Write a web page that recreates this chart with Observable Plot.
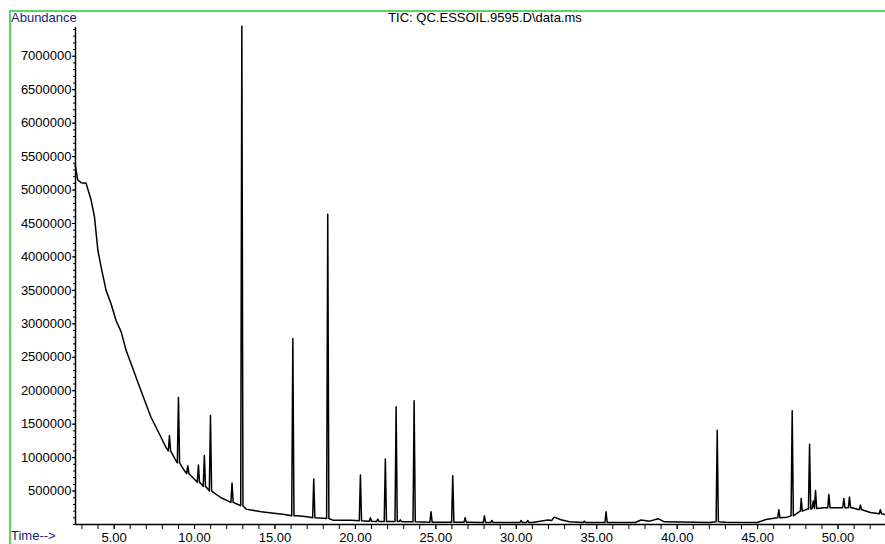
<!DOCTYPE html>
<html>
<head>
<meta charset="utf-8">
<script src="https://cdn.jsdelivr.net/npm/d3@7"></script>
<script src="https://cdn.jsdelivr.net/npm/@observablehq/plot@0.6"></script>
<style>
  html, body { margin: 0; padding: 0; background: #fff; }
  #wrap { position: relative; width: 885px; height: 544px; overflow: hidden; font-family: "Liberation Sans", Arial, sans-serif; }
  #frame { position: absolute; left: 9px; top: 10px; width: 900px; height: 600px; border-top: 2px solid #62d262; border-left: 2px solid #62d262; }
  .lbl { position: absolute; font-size: 13px; white-space: nowrap; line-height: 13px; }
  #ylab { left: 11px; top: 11px; color: #1a1a7a; }
  #title { left: 485px; top: 11px; transform: translateX(-50%); color: #000; }
  #xlab { left: 11px; top: 529px; color: #1a1a7a; }
  #chart { position: absolute; left: 0; top: 0; }
</style>
</head>
<body>
<div id="wrap">
  <div id="chart"></div>
  <div id="frame"></div>
  <div class="lbl" id="ylab">Abundance</div>
  <div class="lbl" id="title">TIC: QC.ESSOIL.9595.D\data.ms</div>
  <div class="lbl" id="xlab">Time--&gt;</div>
</div>
<script>
// Baseline (time in min, abundance in millions)
const baseTime = [2.58, 2.74, 2.95, 3.26, 3.57, 3.78, 3.99, 4.19, 4.50, 4.81, 5.12, 5.44, 5.75, 6.17, 6.67, 7.30, 7.80, 8.23, 8.85, 9.30, 9.90, 10.45, 10.80, 11.65, 12.00, 12.70, 13.20, 14.14, 15.59, 16.40, 17.00, 18.00, 18.60, 19.73, 20.80, 22.00, 23.00, 25.00, 27.00, 29.00, 31.00, 31.97, 32.20, 32.35, 32.78, 33.30, 35.00, 37.40, 37.75, 38.30, 38.81, 39.20, 42.00, 43.00, 44.98, 45.60, 46.22, 46.84, 47.40, 47.66, 48.08, 49.12, 49.95, 50.88, 51.50, 52.01, 52.94];
const baseAbund = [5.38, 5.15, 5.11, 5.10, 4.85, 4.60, 4.10, 3.85, 3.50, 3.30, 3.05, 2.88, 2.60, 2.33, 2.00, 1.60, 1.36, 1.15, 0.95, 0.83, 0.70, 0.60, 0.54, 0.40, 0.36, 0.30, 0.23, 0.19, 0.15, 0.13, 0.115, 0.095, 0.065, 0.063, 0.05, 0.045, 0.04, 0.035, 0.035, 0.03, 0.03, 0.068, 0.06, 0.11, 0.07, 0.04, 0.03, 0.03, 0.068, 0.05, 0.087, 0.04, 0.03, 0.035, 0.03, 0.08, 0.10, 0.11, 0.16, 0.20, 0.23, 0.25, 0.25, 0.25, 0.22, 0.18, 0.15];

// Peaks: retention time, apex abundance and foot abundance (millions)
const peakTime = [8.44, 9.00, 9.58, 10.24, 10.61, 10.99, 12.33, 12.94, 16.11, 17.41, 18.28, 20.31, 20.93, 21.39, 21.86, 22.53, 22.79, 23.65, 24.70, 26.05, 26.82, 28.02, 28.48, 30.30, 30.71, 34.23, 35.58, 42.49, 46.32, 47.15, 47.71, 48.23, 48.46, 48.60, 49.43, 50.36, 50.71, 51.39, 52.63];
const peakApex = [1.33, 1.90, 0.88, 0.89, 1.03, 1.63, 0.62, 7.45, 2.78, 0.68, 4.64, 0.74, 0.10, 0.08, 0.98, 1.76, 0.07, 1.85, 0.19, 0.73, 0.10, 0.13, 0.06, 0.06, 0.06, 0.05, 0.19, 1.41, 0.22, 1.70, 0.39, 1.20, 0.35, 0.51, 0.45, 0.39, 0.41, 0.29, 0.22];
const peakFoot = [1.10, 0.92, 0.76, 0.63, 0.57, 0.50, 0.33, 0.28, 0.13, 0.10, 0.09, 0.055, 0.048, 0.046, 0.045, 0.045, 0.045, 0.04, 0.035, 0.035, 0.035, 0.03, 0.03, 0.03, 0.03, 0.03, 0.03, 0.04, 0.10, 0.13, 0.20, 0.23, 0.24, 0.24, 0.25, 0.25, 0.25, 0.22, 0.16];

// Axis ticks
const yTickValues = [500000, 1000000, 1500000, 2000000, 2500000, 3000000, 3500000, 4000000, 4500000, 5000000, 5500000, 6000000, 6500000, 7000000];
const xTickLabels = ["5.00", "10.00", "15.00", "20.00", "25.00", "30.00", "35.00", "40.00", "45.00", "50.00"];

const M = 1e6;
const halfW = 0.07;
const pts = baseTime.map((t, i) => ({t, v: baseAbund[i] * M}));
peakTime.forEach((t, i) => {
  pts.push({t: t - halfW, v: peakFoot[i] * M});
  pts.push({t: t, v: peakApex[i] * M});
  pts.push({t: t + halfW, v: peakFoot[i] * M});
});
pts.sort((a, b) => a.t - b.t);

const xDomain = [2.6, 52.95];
const xMajor = xTickLabels.map(Number);
const xMinor = d3.range(3, 53);
const yMinor = d3.range(0, 7.45e6, 100000);

const chart = Plot.plot({
  width: 885,
  height: 544,
  marginLeft: 75,
  marginRight: 0,
  marginTop: 27,
  marginBottom: 20,
  style: {fontFamily: "'Liberation Sans', Arial, sans-serif", fontSize: "13px", color: "#000", background: "transparent"},
  x: {domain: xDomain},
  y: {domain: [0, 7.43e6]},
  marks: [
    Plot.axisY({ticks: yMinor, tickSize: 2, tickFormat: () => "", label: null}),
    Plot.axisY({ticks: yTickValues, tickSize: 3, tickPadding: 1, tickFormat: d => String(d), label: null}),
    Plot.axisX({ticks: xMinor, tickSize: 5, tickFormat: () => "", label: null}),
    Plot.axisX({ticks: xMajor, tickSize: 5, tickPadding: 3, tickFormat: d => d.toFixed(2), label: null}),
    Plot.ruleX([xDomain[0]], {stroke: "#000", strokeWidth: 1.5}),
    Plot.ruleY([0], {stroke: "#000", strokeWidth: 1.5}),
    Plot.line(pts, {x: "t", y: "v", stroke: "#000", strokeWidth: 1.5})
  ]
});
document.getElementById("chart").appendChild(chart);
</script>
</body>
</html>
